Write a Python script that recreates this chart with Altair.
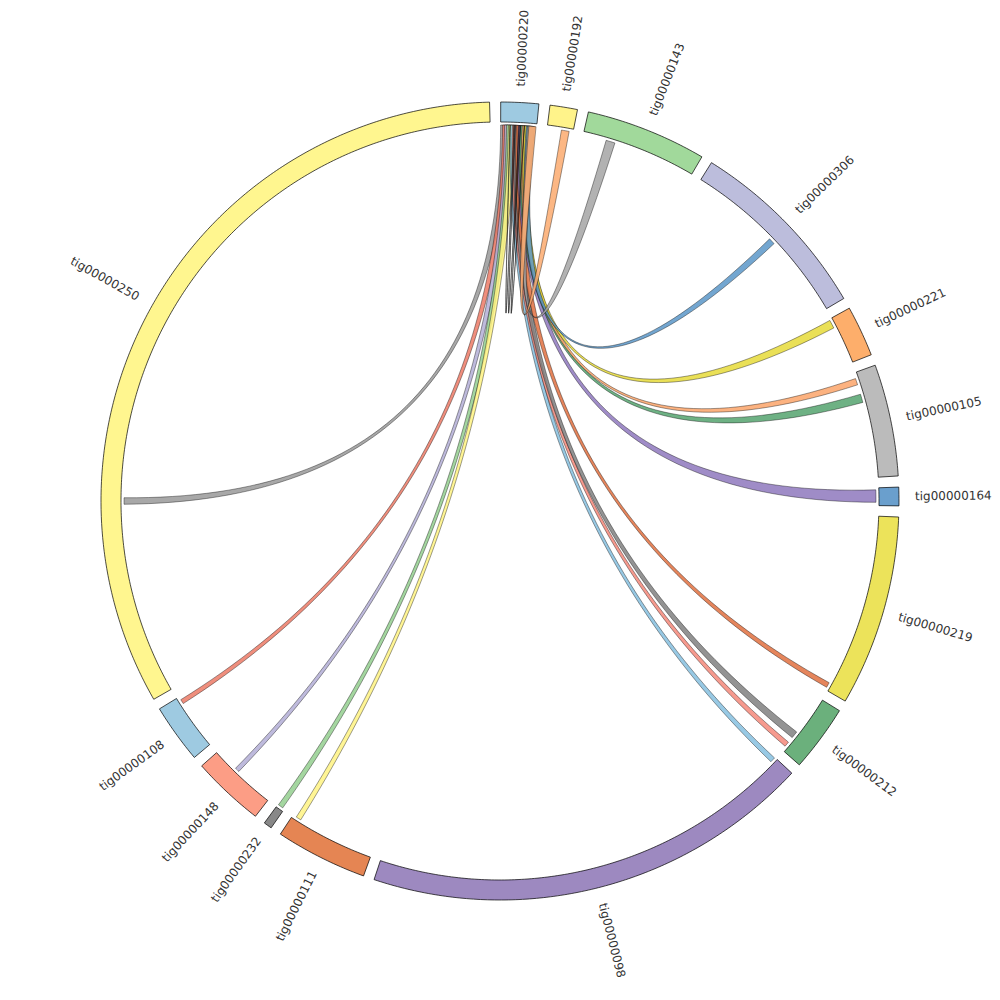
import math
import altair as alt
import pandas as pd

# ---------------- data ----------------
names = ["tig00000220", "tig00000192", "tig00000143", "tig00000306", "tig00000221",
         "tig00000105", "tig00000164", "tig00000219", "tig00000212", "tig00000098",
         "tig00000111", "tig00000232", "tig00000148", "tig00000108", "tig00000250"]
lengths = [55, 40, 176, 275, 74, 163, 27, 278, 97, 654, 134, 12, 106, 86, 1183]
seg_colors = ["#9ecae1", "#fff38a", "#a1d99b", "#bcbddc", "#fdae6b",
              "#bbbbbb", "#6a9fcd", "#ece35a", "#6bb07c", "#9d89c0",
              "#e58553", "#888888", "#fc9d85", "#9ecae1", "#fff68f"]

# links, all from tig00000220
link_targets = ["tig00000250", "tig00000108", "tig00000148", "tig00000232", "tig00000111",
                "tig00000098", "tig00000212", "tig00000212", "tig00000219", "tig00000164",
                "tig00000105", "tig00000105", "tig00000221", "tig00000306", "tig00000143",
                "tig00000192", "tig00000220", "tig00000220", "tig00000220"]
link_target_pos = [293, 74, 62, 3, 120, 1, 82, 62, 266, 3, 34, 9, 2, 138, 36, 22, 20, 28, 36]
link_target_width = [10, 7, 7, 8, 8, 8, 8, 11, 8, 19, 13, 10, 13, 10, 14, 12, 0.5, 0.5, 0.5]
link_source_pos = [0, 3, 6, 9, 12, 15, 18, 21, 24, 27, 30, 33, 36, 39, 41, 43, 14, 22, 30]
link_source_width = [11, 11, 11, 11, 11, 11, 11, 11, 11, 11, 11, 11, 11, 11, 11, 11, 0.5, 0.5, 0.5]
link_colors = ["#999999", "#ec7a66", "#b3aed6", "#94cf8f", "#fff383",
               "#86bfdf", "#f4887a", "#808080", "#e07040", "#8e78bd",
               "#55a36f", "#fca46a", "#e6da3a", "#5b96c8", "#a5a5a5",
               "#fcaa6e", "#444444", "#444444", "#444444"]

# ---------------- layout ----------------
W = H = 984
CX, CY = 492, 493
R_OUT, R_IN, R_CH, R_LAB = 399, 379, 376, 415
START_DEG, GAP_DEG = 0.1, 1.6
unit_deg = (360 - GAP_DEG * len(names)) / sum(lengths)

seg_start = {}
a = START_DEG
for n, L in zip(names, lengths):
    seg_start[n] = a
    a += L * unit_deg + GAP_DEG


def pt(r, deg):
    t = math.radians(deg)
    return [r * math.sin(t), -r * math.cos(t)]


def arc(r, d1, d2, n=None):
    if n is None:
        n = max(4, int(abs(d2 - d1) * 2))
    return [pt(r, d1 + (d2 - d1) * i / n) for i in range(n + 1)]


def bez(p0, p2, n=60):
    out = []
    for i in range(n + 1):
        t = i / n
        out.append([(1 - t) ** 2 * p0[0] + t * t * p2[0],
                    (1 - t) ** 2 * p0[1] + t * t * p2[1]])
    return out


def feature(ring, color):
    ring = ring + [ring[0]]
    return {"type": "Feature",
            "geometry": {"type": "Polygon", "coordinates": [ring]},
            "properties": {"color": color}}


seg_features = []
labels = []
for n, L, c in zip(names, lengths, seg_colors):
    s = seg_start[n]
    e = s + L * unit_deg
    ring = arc(R_OUT, s, e) + arc(R_IN, e, s)
    seg_features.append(feature(ring, c))
    mid = (s + e) / 2
    x, y = pt(R_LAB, mid)
    if mid < 180:
        ang, side = (mid - 90) % 360, "right"
    else:
        ang, side = (mid - 270) % 360, "left"
    labels.append({"name": n, "x": x, "y": y, "angle": ang, "side": side})

src = names[0]
chord_features = []
for tgt, tp, tw, sp, sw, col in zip(link_targets, link_target_pos, link_target_width,
                                    link_source_pos, link_source_width, link_colors):
    a1 = seg_start[src] + sp * unit_deg
    a2 = a1 + sw * unit_deg
    b1 = seg_start[tgt] + tp * unit_deg
    b2 = b1 + tw * unit_deg
    ring = (arc(R_CH, a1, a2) + bez(pt(R_CH, a2), pt(R_CH, b1))[1:]
            + arc(R_CH, b1, b2)[1:] + bez(pt(R_CH, b2), pt(R_CH, a1))[1:-1])
    chord_features.append(feature(ring, col))

lab_df = pd.DataFrame(labels)

proj = dict(type="identity", scale=1, translate=[CX, CY])

chords = alt.Chart(alt.Data(values=chord_features)).mark_geoshape(
    stroke="black", strokeWidth=0.45, fillOpacity=0.85, strokeOpacity=0.85
).encode(fill=alt.Color("properties.color:N", scale=None)).project(**proj)

segs = alt.Chart(alt.Data(values=seg_features)).mark_geoshape(
    stroke="black", strokeWidth=0.7
).encode(fill=alt.Color("properties.color:N", scale=None)).project(**proj)

text_style = dict(baseline="middle", font="DejaVu Sans", fontSize=12, color="#333333")

lab_right = alt.Chart(lab_df[lab_df.side == "right"]).mark_text(align="left", **text_style).encode(
    longitude="x:Q", latitude="y:Q", angle=alt.Angle("angle:Q", scale=None), text="name:N"
).project(**proj)

lab_left = alt.Chart(lab_df[lab_df.side == "left"]).mark_text(align="right", **text_style).encode(
    longitude="x:Q", latitude="y:Q", angle=alt.Angle("angle:Q", scale=None), text="name:N"
).project(**proj)

chart = alt.layer(chords, segs, lab_right, lab_left).properties(
    width=W, height=H, autosize="none", padding=0
).configure_view(stroke=None)

chart.save("out.html", embed_options={"renderer": "svg", "actions": False})
